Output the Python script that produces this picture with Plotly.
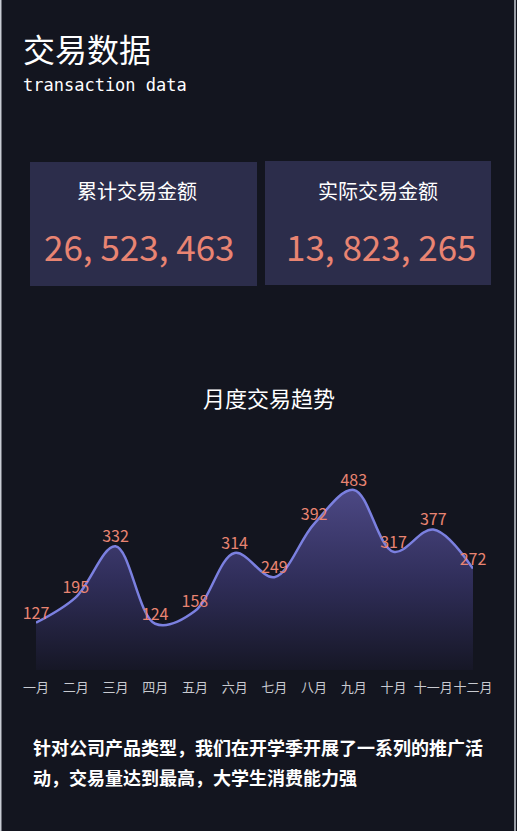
import plotly.graph_objects as go

W, H = 517, 831

months = ["一月", "二月", "三月", "四月", "五月", "六月", "七月", "八月", "九月", "十月", "十一月", "十二月"]
volumes = [127, 195, 332, 124, 158, 314, 249, 392, 483, 317, 377, 272]

page_title = "交易数据"
page_subtitle = "transaction data"
card_titles = ["累计交易金额", "实际交易金额"]
card_values = ["26, 523, 463", "13, 823, 265"]
chart_title = "月度交易趋势"
note_lines = ["针对公司产品类型，我们在开学季开展了一系列的推广活", "动，交易量达到最高，大学生消费能力强"]

BG = "#13151f"
CARD = "#2c2d4b"
SALMON = "#e98472"
CJK = "Noto Sans CJK SC"


def px(x):
    return x / W


def py(y):
    return 1 - y / H


fig = go.Figure()
fig.add_trace(go.Scatter(
    x=months, y=volumes,
    mode="lines+text",
    text=[str(v) for v in volumes],
    textposition="top center",
    textfont=dict(family=CJK, size=16, color=SALMON),
    line=dict(color="#7b80e0", width=2.5, shape="spline", smoothing=1.0),
    fill="tozeroy",
    fillgradient=dict(type="vertical",
                      colorscale=[[0, "rgba(22,23,38,1)"], [0.5, "rgba(48,46,90,1)"], [1, "rgba(76,72,132,1)"]]),
    hoverinfo="skip",
    cliponaxis=False,
    showlegend=False,
))

shapes = [
    dict(type="rect", xref="paper", yref="paper", x0=px(30), x1=px(257), y0=py(286), y1=py(162),
         fillcolor=CARD, line=dict(width=0), layer="below"),
    dict(type="rect", xref="paper", yref="paper", x0=px(265), x1=px(491), y0=py(285), y1=py(161),
         fillcolor=CARD, line=dict(width=0), layer="below"),
    dict(type="line", xref="paper", yref="paper", x0=px(0.75), x1=px(0.75), y0=0, y1=1,
         line=dict(color="#c9ccd4", width=1.5)),
    dict(type="line", xref="paper", yref="paper", x0=px(515), x1=px(515), y0=0, y1=1,
         line=dict(color="#c9ccd4", width=1.5)),
]

ann = [
    dict(text=page_title, x=px(21), y=py(48), xanchor="left", yanchor="middle",
         font=dict(family=CJK, size=32, color="white")),
    dict(text=page_subtitle, x=px(21), y=py(85), xanchor="left", yanchor="middle",
         font=dict(family="DejaVu Sans Mono", size=17, color="white")),
    dict(text=card_titles[0], x=px(137), y=py(191), xanchor="center", yanchor="middle",
         font=dict(family=CJK, size=20, color="white")),
    dict(text=card_titles[1], x=px(378), y=py(191), xanchor="center", yanchor="middle",
         font=dict(family=CJK, size=20, color="white")),
    dict(text=card_values[0], x=px(139), y=py(245), xanchor="center", yanchor="middle",
         font=dict(family=CJK, size=35, color=SALMON)),
    dict(text=card_values[1], x=px(381), y=py(245), xanchor="center", yanchor="middle",
         font=dict(family=CJK, size=35, color=SALMON)),
    dict(text=chart_title, x=px(269), y=py(397), xanchor="center", yanchor="middle",
         font=dict(family=CJK, size=22, color="white")),
    dict(text="<b>" + note_lines[0] + "</b>", x=px(31), y=py(747), xanchor="left", yanchor="middle",
         font=dict(family=CJK, size=18, color="white")),
    dict(text="<b>" + note_lines[1] + "</b>", x=px(31), y=py(777), xanchor="left", yanchor="middle",
         font=dict(family=CJK, size=18, color="white")),
]
for a in ann:
    a.update(xref="paper", yref="paper", showarrow=False)

fig.update_layout(
    width=W, height=H, autosize=False,
    margin=dict(l=0, r=0, t=0, b=0, pad=0),
    paper_bgcolor=BG, plot_bgcolor=BG,
    xaxis=dict(domain=[px(36), px(473)], range=[0, 11], type="category",
               showgrid=False, zeroline=False, showline=False, ticks="",
               tickangle=0, automargin=False,
               tickfont=dict(family=CJK, size=13, color="#c8cad0"), ticklabelstandoff=8,
               fixedrange=True),
    yaxis=dict(domain=[py(670), py(483.6)], range=[0, 500], visible=False, automargin=False,
               showgrid=False, zeroline=False, fixedrange=True),
    shapes=shapes,
    annotations=ann,
)

fig.write_html("out.html", config={"displayModeBar": False},
               post_script="document.body.style.margin='0';document.body.style.overflow='hidden';")
